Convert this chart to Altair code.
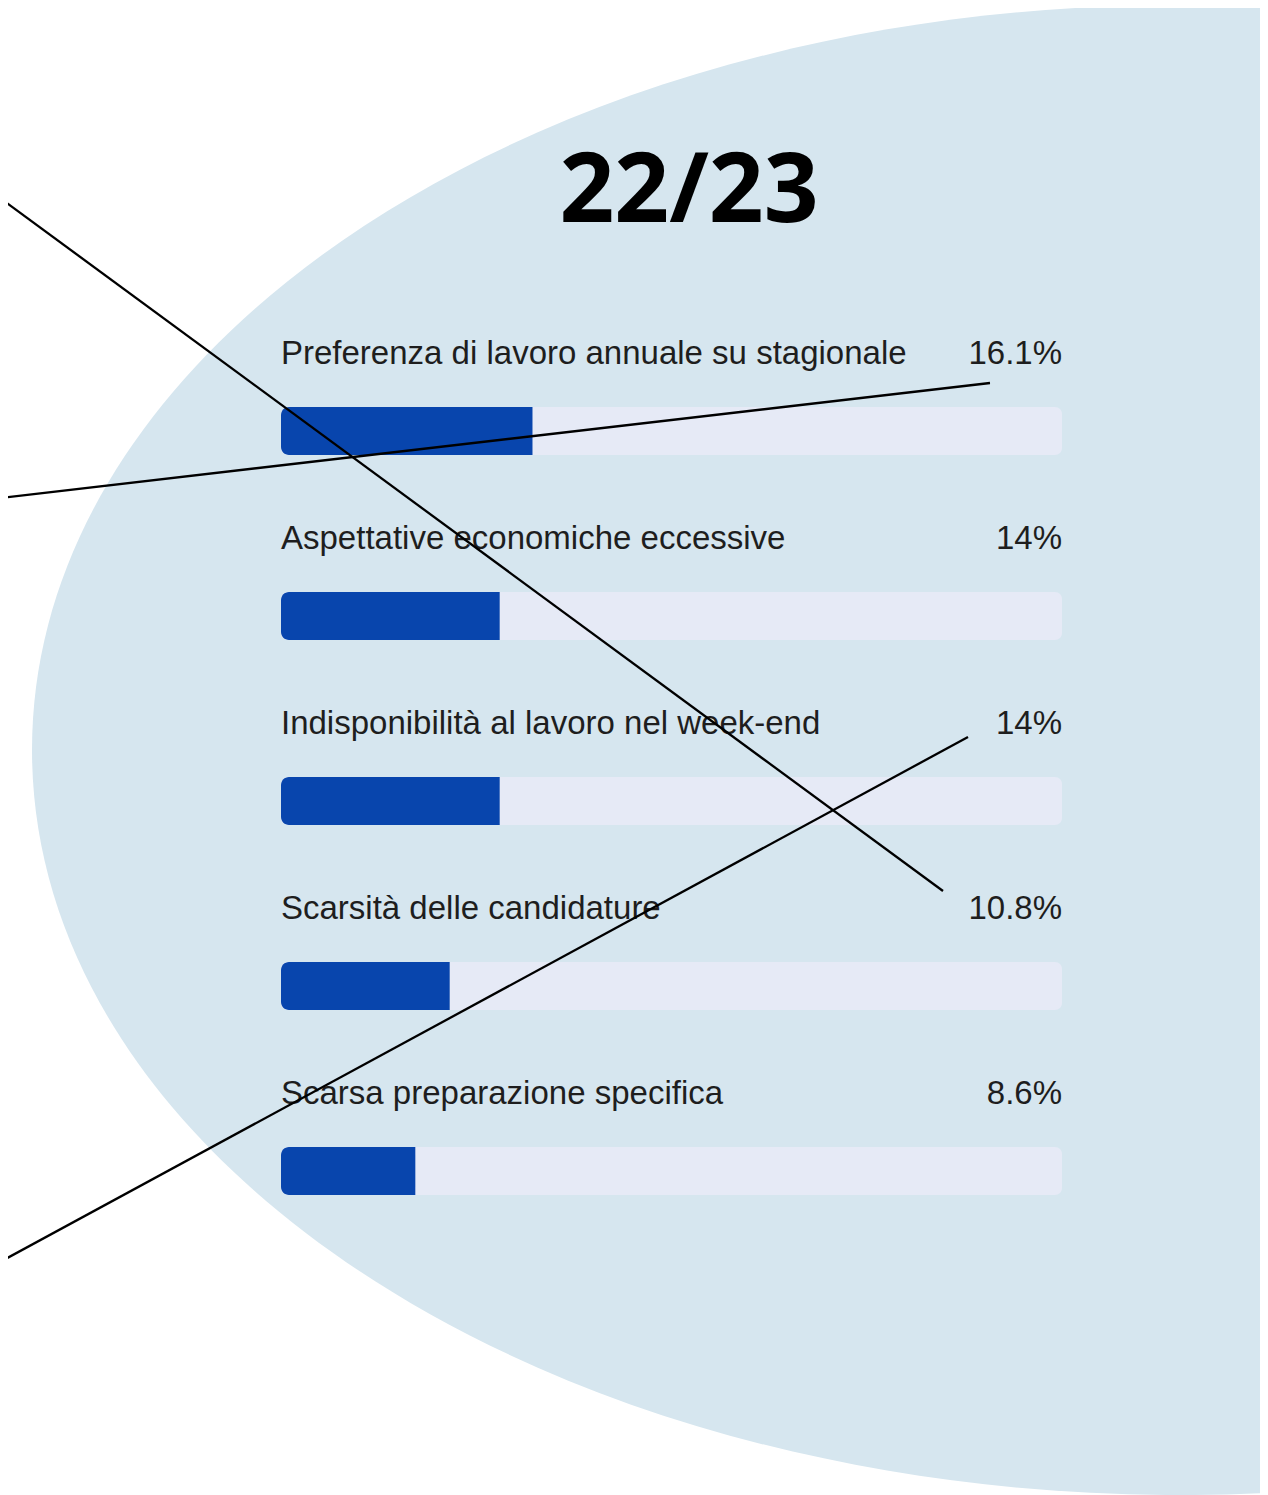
import altair as alt
import pandas as pd

# ---------------- data ----------------
categories = [
    "Preferenza di lavoro annuale su stagionale",
    "Aspettative economiche eccessive",
    "Indisponibilità al lavoro nel week-end",
    "Scarsità delle candidature",
    "Scarsa preparazione specifica",
]
values = [16.1, 14.0, 14.0, 10.8, 8.6]
value_labels = ["16.1%", "14%", "14%", "10.8%", "8.6%"]
title_text = ["22/23"]
scale_max = 50

# annotation connector lines (page pixels)
line_x1 = [0, 0, 0]
line_y1 = [198, 498, 1262]
line_x2 = [943, 990, 968]
line_y2 = [891, 383, 737]

# ---------------- layout constants ----------------
OFF = 8  # page margin
W, H = 1252, 1487
BAR_BLUE = "#0845AD"
TRACK = "#E6EAF6"
BG_BLUE = "#D6E6EF"
TEXT = "#1e1e1e"
LABEL_FONT = "Liberation Sans"
LABEL_SIZE = 33

# ---------------- background ellipse ----------------
ratio = 0.649
ellipse_path = f"M -1 0 A 1 {ratio} 0 1 0 1 0 A 1 {ratio} 0 1 0 -1 0 Z"
rx = 1148
ellipse = alt.Chart(pd.DataFrame({"k": [0]})).mark_point(
    shape=ellipse_path, size=(2 * rx) ** 2, filled=True, color=BG_BLUE,
    opacity=1, strokeWidth=0
).encode(x=alt.value(1180 - OFF), y=alt.value(750 - OFF))

# ---------------- title ----------------
title = alt.Chart(pd.DataFrame({"t": title_text})).mark_text(
    font="Open Sans", fontWeight="bold", fontSize=96, color="#000000",
    align="center", baseline="alphabetic"
).encode(x=alt.value(689 - OFF), y=alt.value(222 - OFF), text="t:N")

# ---------------- bars ----------------
df = pd.DataFrame({"cat": categories, "value": values, "label": value_labels})
xs = alt.Scale(domain=[0, scale_max], range=[281 - OFF, 1062 - OFF], nice=False, zero=True)
ys = alt.Scale(domain=categories, range=[338.5 - OFF, 1263.5 - OFF], paddingInner=0, paddingOuter=0)

base = alt.Chart(df).transform_calculate(zero="0", full=str(scale_max))
Y = alt.Y("cat:N", scale=ys, axis=None, sort=categories)

track = base.mark_bar(size=48, color=TRACK, cornerRadius=7).encode(
    x=alt.X("zero:Q", scale=xs, axis=None), x2="full:Q", y=Y
)
bars = base.mark_bar(size=48, color=BAR_BLUE, cornerRadiusTopLeft=8,
                     cornerRadiusBottomLeft=8).encode(
    x=alt.X("zero:Q", scale=xs, axis=None), x2="value:Q", y=Y
)
labels = base.mark_text(align="left", baseline="alphabetic", dy=-67,
                        font=LABEL_FONT, fontSize=LABEL_SIZE, color=TEXT).encode(
    x=alt.X("zero:Q", scale=xs, axis=None), y=Y, text="cat:N"
)
pcts = base.mark_text(align="right", baseline="alphabetic", dy=-67,
                      font=LABEL_FONT, fontSize=LABEL_SIZE, color=TEXT).encode(
    x=alt.X("full:Q", scale=xs, axis=None), y=Y, text="label:N"
)
bar_group = alt.layer(track, bars, labels, pcts)

# ---------------- connector lines ----------------
ldf = pd.DataFrame({
    "x1": [v - OFF for v in line_x1], "y1": [v - OFF for v in line_y1],
    "x2": [v - OFF for v in line_x2], "y2": [v - OFF for v in line_y2],
})
lines = alt.Chart(ldf).mark_rule(color="#000000", strokeWidth=2.3).encode(
    x=alt.X("x1:Q", scale=None, axis=None), y=alt.Y("y1:Q", scale=None, axis=None),
    x2="x2:Q", y2="y2:Q"
)

chart = alt.layer(ellipse, title, bar_group, lines).resolve_scale(
    x="independent", y="independent"
).properties(
    width=W, height=H, padding=0, background="white",
    autosize=alt.AutoSizeParams(type="none"),
).configure_view(stroke=None)

chart.save("out.html", embed_options={"renderer": "svg", "actions": False})
